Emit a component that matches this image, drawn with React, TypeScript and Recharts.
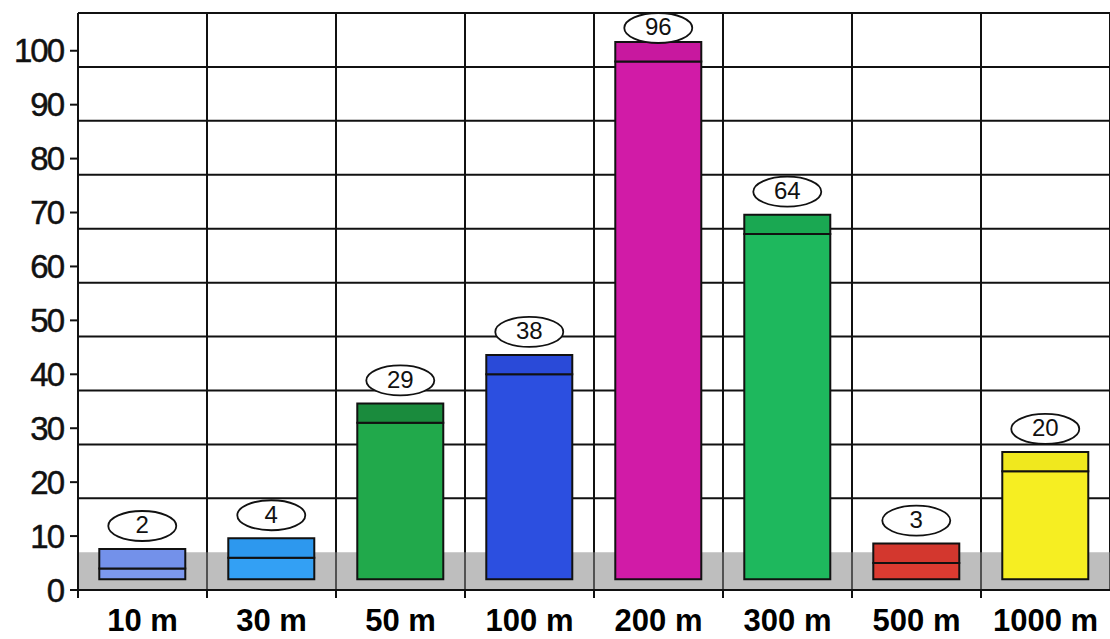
import React from "react"
import {
  Bar,
  BarChart,
  CartesianGrid,
  Cell,
  LabelList,
  ReferenceArea,
  XAxis,
  YAxis,
} from "recharts"

// distances along the x axis and the count shown in each bubble
const distances = ["10 m", "30 m", "50 m", "100 m", "200 m", "300 m", "500 m", "1000 m"]
const counts = [2, 4, 29, 38, 96, 64, 3, 20]

const yTicks = [0, 10, 20, 30, 40, 50, 60, 70, 80, 90, 100]
// back wall of the pseudo-3D box sits a bit higher than the ticks
const wallRows = [17, 27, 37, 47, 57, 67, 77, 87, 97, 107]

const frontColors = ["#7c98ee", "#33a0f4", "#21a94b", "#2c4fe0", "#d11ba7", "#1eb85d", "#db3b31", "#f6ee22"]
const topColors = ["#7391ea", "#2d98ee", "#1a8b3d", "#2a4ad8", "#c8189f", "#1aa852", "#d3372e", "#f0e81e"]

const FLOOR = 7
const LIFT = 2
const DEPTH = 3.6

const data = distances.map((name, i) => ({
  name,
  lift: LIFT,
  value: counts[i],
  depth: DEPTH,
}))

const font = "'Liberation Sans', Arial, Helvetica, sans-serif"

function Bubble(props: any) {
  const { x, y, width, value } = props
  const cx = x + width / 2
  const cy = Math.max(y - 23, 28)
  return (
    <g>
      <ellipse cx={cx} cy={cy} rx={34} ry={15} fill="#fff" stroke="#111" strokeWidth={1.8} />
      <text x={cx} y={cy + 1} textAnchor="middle" dominantBaseline="middle" fontSize={24} fontFamily={font} fill="#111">
        {value}
      </text>
    </g>
  )
}

// category label plus a tick mark on the left edge of each band
function DistanceTick(props: any) {
  const { x, y, payload } = props
  const half = payload?.offset ?? 0
  return (
    <g>
      <line x1={x - half} x2={x - half} y1={y - 8} y2={y} stroke="#111" strokeWidth={2} />
      <text x={x} y={y + 33} textAnchor="middle" fontSize={31} fontWeight={700} fontFamily={font} fill="#000">
        {payload.value}
      </text>
    </g>
  )
}

// vertical wall lines on the band edges
const wallColumns = ({ offset }: any) =>
  Array.from({ length: distances.length + 1 }, (_, i) => offset.left + (i * offset.width) / distances.length)

export default function App() {
  return (
    <div style={{ position: "absolute", left: 0, top: 0, background: "#fff" }}>
      <BarChart
        width={1110}
        height={639}
        data={data}
        margin={{ top: 13, right: 0, bottom: 0, left: 0 }}
        barCategoryGap="16.5%"
        style={{ fontFamily: font }}
      >
        <CartesianGrid
          horizontalValues={wallRows}
          verticalCoordinatesGenerator={wallColumns}
          stroke="#111"
          strokeWidth={2}
        />
        <ReferenceArea y1={0} y2={FLOOR} fill="#888" fillOpacity={0.55} stroke="none" />
        <XAxis
          dataKey="name"
          height={49}
          axisLine={{ stroke: "#111", strokeWidth: 2 }}
          tickLine={false}
          tickSize={8}
          tickMargin={0}
          interval={0}
          tick={<DistanceTick />}
        />
        <YAxis
          width={78}
          domain={[0, 107]}
          ticks={yTicks}
          allowDataOverflow
          tickSize={8}
          tickMargin={7}
          axisLine={{ stroke: "#111", strokeWidth: 2 }}
          tickLine={{ stroke: "#111", strokeWidth: 2 }}
          tick={{ fontSize: 33, fill: "#111", fontFamily: font, letterSpacing: -2, stroke: "#111", strokeWidth: 0.5 }}
        />
        <Bar dataKey="lift" stackId="s" fill="transparent" isAnimationActive={false} />
        <Bar dataKey="value" stackId="s" stroke="#111" strokeWidth={2} isAnimationActive={false}>
          {data.map((d, i) => (
            <Cell key={d.name} fill={frontColors[i]} />
          ))}
        </Bar>
        <Bar dataKey="depth" stackId="s" stroke="#111" strokeWidth={2} isAnimationActive={false}>
          {data.map((d, i) => (
            <Cell key={d.name} fill={topColors[i]} />
          ))}
          <LabelList dataKey="value" content={Bubble} />
        </Bar>
      </BarChart>
    </div>
  )
}
